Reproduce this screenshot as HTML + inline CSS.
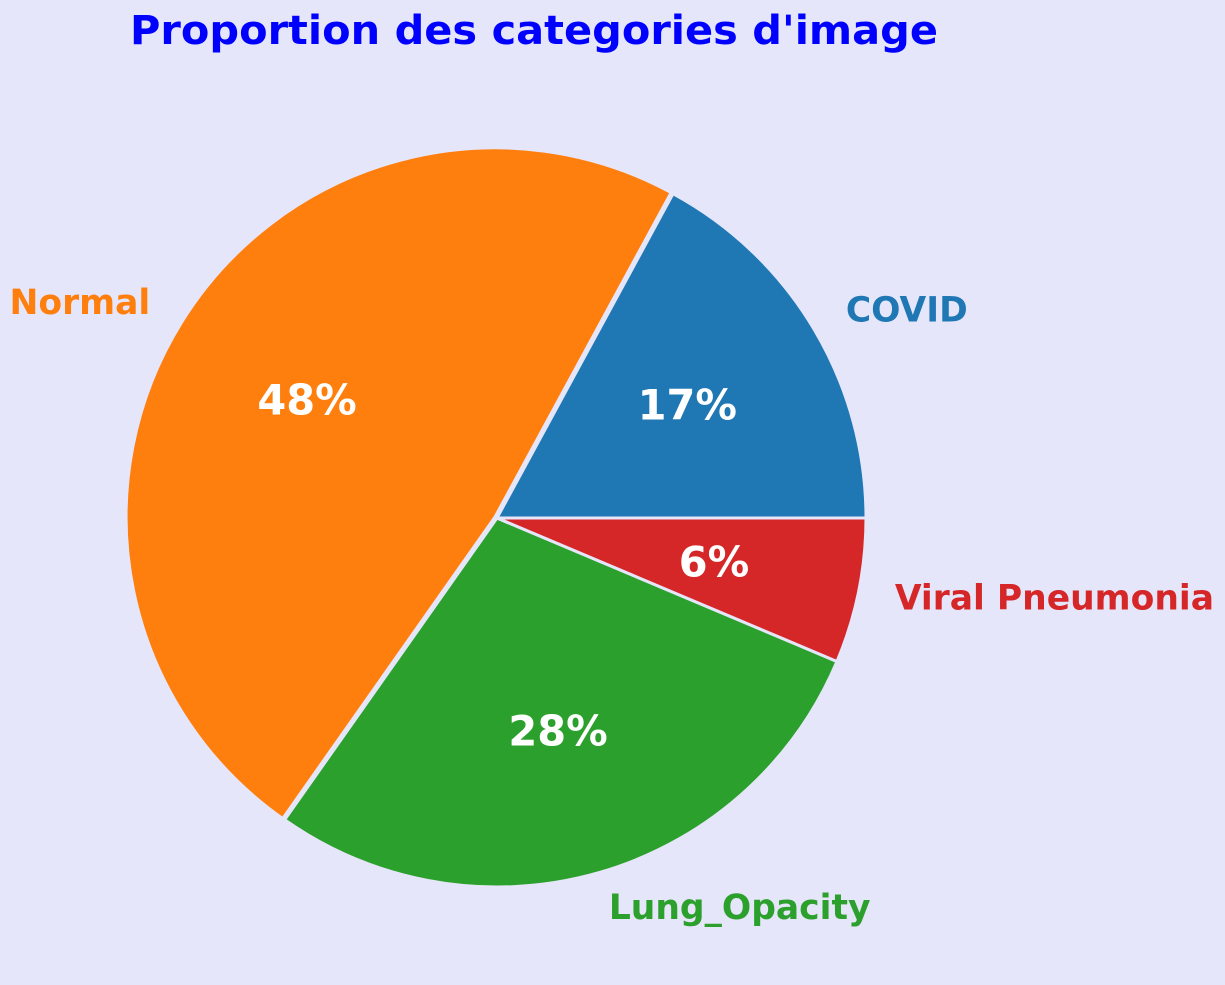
<!DOCTYPE html>
<html><head><meta charset="utf-8"><style>
html,body{margin:0;padding:0;background:#e6e6fa;}
svg{display:block;font-family:"DejaVu Sans","Liberation Sans",sans-serif;font-weight:bold;}
</style></head><body>
<svg id="chart" width="1225" height="985" viewBox="0 0 1225 985">
<rect width="1225" height="985" fill="#e6e6fa"/>
<text x="534" y="44" text-anchor="middle" font-size="40" fill="#0000ff" textLength="808" lengthAdjust="spacingAndGlyphs">Proportion des categories d'image</text>
<g id="slices"></g>
<g id="labels"></g>
</svg>
<script>
const categories = ["COVID", "Normal", "Lung_Opacity", "Viral Pneumonia"];
const counts = [3616, 10192, 6012, 1345];
const colors = ["#1f77b4", "#ff7f0e", "#2ca02c", "#d62728"];
const explode = [0, 0.006, 0, 0];
const cx = 497, cy = 518, R = 369;
const NS = "http://www.w3.org/2000/svg";
const total = counts.reduce((a, b) => a + b, 0);
const gS = document.getElementById('slices'), gL = document.getElementById('labels');
let a0 = 0;
function pt(r, deg, ox, oy) { const t = deg * Math.PI / 180; return [ox + r * Math.cos(t), oy - r * Math.sin(t)]; }
counts.forEach((v, i) => {
  const frac = v / total, a1 = a0 + frac * 360, mid = (a0 + a1) / 2;
  const [ox, oy] = pt(explode[i] * R, mid, cx, cy);
  const p0 = pt(R, a0, ox, oy), p1 = pt(R, a1, ox, oy);
  const large = (a1 - a0) > 180 ? 1 : 0;
  const path = document.createElementNS(NS, 'path');
  path.setAttribute('d', `M${ox},${oy} L${p0[0]},${p0[1]} A${R},${R} 0 ${large} 0 ${p1[0]},${p1[1]} Z`);
  path.setAttribute('fill', colors[i]);
  path.setAttribute('stroke', '#e6e6fa');
  path.setAttribute('stroke-width', '3');
  path.setAttribute('stroke-linejoin', 'round');
  
  
  gS.appendChild(path);
  const [lx, ly] = pt(1.1 * R, mid, ox, oy);
  const lab = document.createElementNS(NS, 'text');
  lab.setAttribute('x', lx); lab.setAttribute('y', ly);
  lab.setAttribute('dominant-baseline', 'central');
  lab.setAttribute('text-anchor', Math.cos(mid * Math.PI / 180) >= 0 ? 'start' : 'end');
  lab.setAttribute('font-size', '34.5');
  lab.setAttribute('fill', colors[i]);
  lab.textContent = categories[i];
  
  
  gL.appendChild(lab);
  const [px, py] = pt(0.6 * R, mid, ox, oy);
  const pc = document.createElementNS(NS, 'text');
  pc.setAttribute('x', px); pc.setAttribute('y', py);
  pc.setAttribute('dominant-baseline', 'central');
  pc.setAttribute('text-anchor', 'middle');
  pc.setAttribute('font-size', '41.5');
  pc.setAttribute('fill', '#ffffff');
  pc.textContent = Math.round(frac * 100) + '%';
  
  
  gL.appendChild(pc);
  a0 = a1;
});
</script>
</body></html>
